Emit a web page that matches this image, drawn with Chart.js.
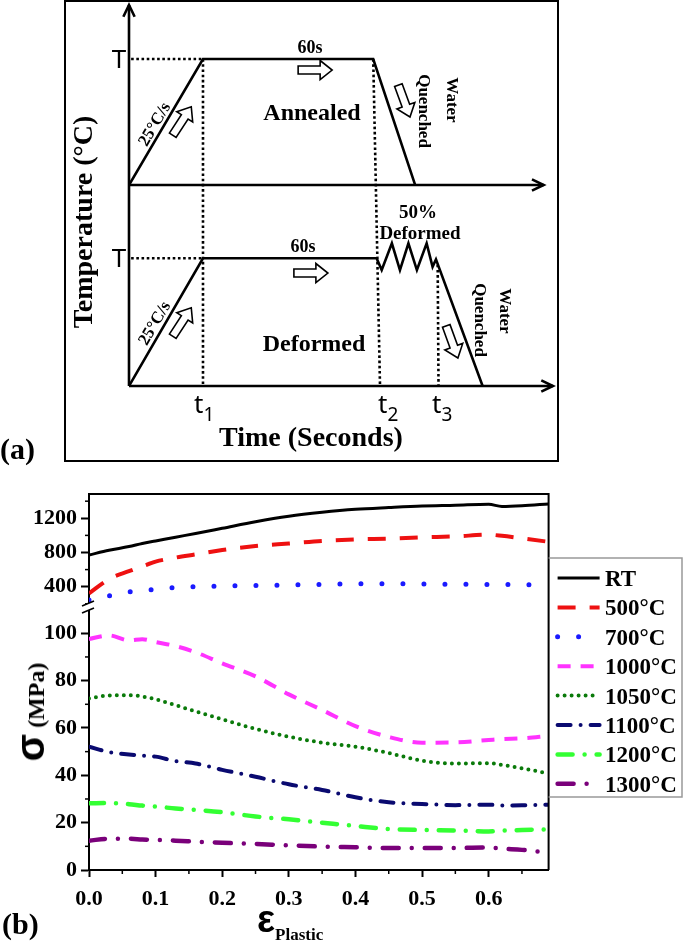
<!DOCTYPE html>
<html><head><meta charset="utf-8">
<script src="https://cdn.jsdelivr.net/npm/chart.js@4.4.1/dist/chart.umd.min.js"></script>
<style>
html,body{margin:0;padding:0;background:#fff;}
#page{position:relative;width:685px;height:942px;overflow:hidden;background:#fff;}
canvas{position:absolute;left:0;}
.t{position:absolute;white-space:nowrap;line-height:1;color:#000;}
.s{font-family:'Liberation Serif','Times New Roman',serif;font-weight:bold;}
.n{font-family:'Noto Sans','Liberation Sans',sans-serif;font-weight:normal;}
.c{transform:translate(-50%,-50%);}
</style></head><body><div id="page">
<div style="position:absolute;left:64px;top:0;width:495px;height:462px;border:2px solid #000;box-sizing:border-box;"></div>
<canvas id="ca" width="685" height="470" style="top:0"></canvas>
<canvas id="cb" width="685" height="472" style="top:470px"></canvas>

<!-- panel (a) texts -->
<div class="t s" style="left:0;top:434px;font-size:30px;">(a)</div>
<div class="t n c" style="left:119px;top:58px;font-size:26px;">T</div>
<div class="t n c" style="left:119px;top:257px;font-size:26px;">T</div>
<div class="t n" style="left:194px;top:390px;font-size:26px;">t<span style="font-size:19px;vertical-align:-8px;">1</span></div>
<div class="t n" style="left:378px;top:390px;font-size:26px;">t<span style="font-size:19px;vertical-align:-8px;">2</span></div>
<div class="t n" style="left:432px;top:390px;font-size:26px;">t<span style="font-size:19px;vertical-align:-8px;">3</span></div>
<div class="t s c" style="left:311px;top:437px;font-size:28px;">Time (Seconds)</div>
<div class="t s" style="left:83px;top:222px;font-size:28px;transform:translate(-50%,-50%) rotate(-90deg);">Temperature (°C)</div>
<div class="t s c" style="left:310px;top:47px;font-size:18px;">60s</div>
<div class="t s c" style="left:303px;top:246px;font-size:18px;">60s</div>
<div class="t s c" style="left:312px;top:112px;font-size:24px;">Annealed</div>
<div class="t s c" style="left:314px;top:343px;font-size:24px;">Deformed</div>
<div class="t s c" style="left:418px;top:211px;font-size:19px;">50%</div>
<div class="t s c" style="left:420px;top:232px;font-size:19px;">Deformed</div>
<div class="t s" style="left:452px;top:100px;font-size:17px;transform:translate(-50%,-50%) rotate(90deg);">Water</div>
<div class="t s" style="left:424px;top:111px;font-size:17px;transform:translate(-50%,-50%) rotate(90deg);">Quenched</div>
<div class="t s" style="left:505px;top:311px;font-size:17px;transform:translate(-50%,-50%) rotate(90deg);">Water</div>
<div class="t s" style="left:480px;top:320px;font-size:17px;transform:translate(-50%,-50%) rotate(90deg);">Quenched</div>
<div class="t s" style="left:154px;top:124px;font-size:17px;transform:translate(-50%,-50%) rotate(-59.6deg);">25°C/s</div>
<div class="t s" style="left:154px;top:323px;font-size:17px;transform:translate(-50%,-50%) rotate(-59.6deg);">25°C/s</div>

<!-- panel (b) texts -->
<div class="t" style="left:30px;top:712px;transform:translate(-50%,-50%) rotate(-90deg);"><span style="font-family:'Liberation Sans',sans-serif;font-weight:bold;font-size:40px;">σ</span><span class="s" style="font-size:24px;"> (MPa)</span></div>
<div class="t" style="left:257px;top:900px;"><span style="font-family:'Liberation Sans',sans-serif;font-weight:bold;font-size:38px;">ε</span><span class="s" style="font-size:17px;vertical-align:-8px;">Plastic</span></div>
<div class="t s" style="left:2px;top:909px;font-size:30px;">(b)</div>
<div id="legendText"></div>
</div>
<script>
// ================= Panel (a): heat-treatment schedule =================
const upTime   = [0, 17.45, 57.6, 67.5];
const upTemp   = [0, 100, 100, 0];
const lowTime  = [0, 17.45, 58.4, 59.6, 62.0, 63.9, 65.9, 67.9, 70.2, 71.6, 72.4, 83.4];
const lowTemp  = [0, 100, 100, 90.8, 111.7, 90.8, 111.7, 90.8, 111.7, 93.4, 99.2, 0];
const holdGuideTime = [0.5, 17.45];
const holdGuideTemp = [100, 100];
// vertical dotted guides: time at top, scale of top point, temp at top, time at bottom (lower baseline)
const guideTop   = [17.45, 57.6, 72.8];
const guideBot   = [17.45, 59.2, 73.0];
const guideScale = ['yUp', 'yUp', 'yLow'];
const guideFrom  = [100, 100, 95];
// hollow block arrows: time, temp, scale, angle(deg)
const arrowTime  = [12.5, 43.9, 64.9, 12.5, 42.9, 76.2];
const arrowTemp  = [50.8, 91.3, 66.7, 50.1, 88.5, 34.5];
const arrowScale = ['yUp', 'yUp', 'yUp', 'yLow', 'yLow', 'yLow'];
const arrowAngle = [-57, 0, 70, -57, 0, 70];

const pts = (xs, ys) => xs.map((v, i) => ({x: v, y: ys[i]}));

function chevron(ctx, x, y, ang) {
  const a1 = ang + Math.PI - 0.45, a2 = ang + Math.PI + 0.45, L = 13;
  ctx.beginPath();
  ctx.moveTo(x + L * Math.cos(a1), y + L * Math.sin(a1));
  ctx.lineTo(x, y);
  ctx.lineTo(x + L * Math.cos(a2), y + L * Math.sin(a2));
  ctx.stroke();
}
function blockArrow(ctx, cx, cy, deg) {
  const L = 34, bw = 8, hw = 19, hl = 12;
  ctx.save();
  ctx.translate(cx, cy); ctx.rotate(deg * Math.PI / 180);
  ctx.beginPath();
  ctx.moveTo(-L/2, -bw/2); ctx.lineTo(L/2 - hl, -bw/2); ctx.lineTo(L/2 - hl, -hw/2);
  ctx.lineTo(L/2, 0); ctx.lineTo(L/2 - hl, hw/2); ctx.lineTo(L/2 - hl, bw/2);
  ctx.lineTo(-L/2, bw/2); ctx.closePath();
  ctx.fillStyle = '#fff'; ctx.fill();
  ctx.lineWidth = 1.6; ctx.strokeStyle = '#000'; ctx.stroke();
  ctx.restore();
}

const schedDecor = {
  id: 'schedDecor',
  beforeDatasetsDraw(chart) {
    const {ctx, scales} = chart;
    const X = scales.x, L = scales.yLow;
    ctx.save();
    ctx.strokeStyle = '#000'; ctx.lineWidth = 2.6; ctx.setLineDash([2.6, 2.6]);
    guideTop.forEach((t, i) => {
      ctx.beginPath();
      ctx.moveTo(X.getPixelForValue(t), scales[guideScale[i]].getPixelForValue(guideFrom[i]));
      ctx.lineTo(X.getPixelForValue(guideBot[i]), L.getPixelForValue(0));
      ctx.stroke();
    });
    ctx.restore();
  },
  afterDatasetsDraw(chart) {
    const {ctx, chartArea, scales} = chart;
    const X = scales.x, U = scales.yUp, L = scales.yLow;
    ctx.save();
    ctx.strokeStyle = '#000'; ctx.lineWidth = 2.6; ctx.lineCap = 'butt';
    const x0 = X.getPixelForValue(0);
    ctx.beginPath(); ctx.moveTo(x0, L.getPixelForValue(0)); ctx.lineTo(x0, chartArea.top); ctx.stroke();
    chevron(ctx, x0, chartArea.top, -Math.PI / 2);
    const yu = U.getPixelForValue(0), xu = X.getPixelForValue(97.8);
    ctx.beginPath(); ctx.moveTo(x0, yu); ctx.lineTo(xu, yu); ctx.stroke();
    chevron(ctx, xu, yu, 0);
    const yl = L.getPixelForValue(0), xl = X.getPixelForValue(100);
    ctx.beginPath(); ctx.moveTo(x0, yl); ctx.lineTo(xl, yl); ctx.stroke();
    chevron(ctx, xl, yl, 0);
    arrowTime.forEach((t, i) => {
      blockArrow(ctx, X.getPixelForValue(t), scales[arrowScale[i]].getPixelForValue(arrowTemp[i]), arrowAngle[i]);
    });
    ctx.restore();
  }
};

new Chart(document.getElementById('ca'), {
  type: 'line',
  data: { datasets: [
    {data: pts(upTime, upTemp), yAxisID: 'yUp', borderColor: '#000', borderWidth: 2.6, pointRadius: 0, tension: 0},
    {data: pts(lowTime, lowTemp), yAxisID: 'yLow', borderColor: '#000', borderWidth: 2.6, pointRadius: 0, tension: 0},
    {data: pts(holdGuideTime, holdGuideTemp), yAxisID: 'yUp', borderColor: '#000', borderWidth: 2.6, borderDash: [2.6, 2.6], pointRadius: 0},
    {data: pts(holdGuideTime, holdGuideTemp), yAxisID: 'yLow', borderColor: '#000', borderWidth: 2.6, borderDash: [2.6, 2.6], pointRadius: 0}
  ]},
  options: {
    responsive: false, animation: false, events: [],
    layout: {padding: {left: 129, right: 132, top: 5, bottom: 84}},
    plugins: {legend: {display: false}, tooltip: {enabled: false}},
    scales: {
      x: {type: 'linear', min: 0, max: 100, display: false},
      yUp: {type: 'linear', min: -159.5, max: 142.9, display: false},
      yLow: {type: 'linear', min: 0, max: 298.4, display: false}
    }
  },
  plugins: [schedDecor]
});

// ================= Panel (b): flow stress vs plastic strain =================
const strain = [0, 0.03, 0.06, 0.08, 0.1, 0.13, 0.16, 0.2, 0.25, 0.3, 0.35, 0.4, 0.45, 0.5, 0.55, 0.6, 0.62, 0.65, 0.69];
const sRT   = [771, 826, 869, 906, 935, 979, 1022, 1083, 1160, 1224, 1270, 1305, 1326, 1344, 1353, 1364, 1338, 1346, 1368];
const s500  = [322, 488, 582, 638, 693, 740, 778, 829, 875, 905, 935, 954, 963, 978, 988, 1008, 995, 965, 925];
const s700  = [244, 292, 338, 355, 369, 390, 400, 408, 414, 420, 427, 435, 435, 431, 428, 427, 427, 425, 420];
const s1000 = [97.6, 99.1, 97.0, 97.5, 96.3, 94.6, 92.0, 87.3, 81.8, 74.2, 67.6, 60.8, 56.2, 53.8, 53.9, 54.9, 55.3, 55.6, 56.7];
const s1050 = [72.5, 73.7, 73.8, 73.3, 72.1, 69.6, 67.0, 63.7, 59.6, 56.3, 53.8, 52.1, 49.4, 46.2, 45.0, 45.1, 44.4, 43.0, 40.8];
const s1100 = [52.1, 49.8, 48.8, 48.3, 47.9, 46.0, 45.0, 42.3, 39.4, 36.2, 33.8, 30.7, 28.6, 27.9, 27.4, 27.6, 27.2, 27.3, 27.6];
const s1200 = [28.2, 28.3, 27.8, 27.2, 26.8, 26.0, 25.4, 24.4, 22.6, 21.4, 20.0, 18.6, 17.3, 16.9, 16.7, 16.3, 16.6, 16.9, 17.2];
const s1300 = [12.4, 13.2, 13.2, 12.9, 12.7, 12.4, 12.0, 11.5, 11.0, 10.4, 9.9, 9.6, 9.3, 9.3, 9.3, 9.5, 9.0, 8.5, 7.3];
const seriesNames = ['RT', '500°C', '700°C', '1000°C', '1050°C', '1100°C', '1200°C', '1300°C'];
const xTicks = [0, 0.1, 0.2, 0.3, 0.4, 0.5, 0.6];
const xMinor = [0.05, 0.15, 0.25, 0.35, 0.45, 0.55, 0.65];
const yTopTicks = [400, 800, 1200];
const yTopMinor = [200, 600, 1000, 1400];
const yBotTicks = [0, 20, 40, 60, 80, 100];
const yBotMinor = [10, 30, 50, 70, 90];

const styles = [
  {c: '#000000', w: 3,   d: [],             cap: 'butt',  ax: 'yTop'},
  {c: '#ee1111', w: 4,   d: [18, 14],       cap: 'butt',  ax: 'yTop'},
  {c: '#1a1aff', w: 5,   d: [0, 21],        cap: 'round', ax: 'yTop'},
  {c: '#ff33ff', w: 4,   d: [13, 10],       cap: 'butt',  ax: 'yBot'},
  {c: '#0a7a0a', w: 4,   d: [0, 7],         cap: 'round', ax: 'yBot'},
  {c: '#0a0a70', w: 4,   d: [13, 10, 0, 10],cap: 'round', ax: 'yBot'},
  {c: '#33ff33', w: 4.5, d: [15, 12, 0, 12],cap: 'round', ax: 'yBot'},
  {c: '#7a007a', w: 4.5, d: [16, 13, 0, 13],cap: 'round', ax: 'yBot'}
];
const values = [sRT, s500, s700, s1000, s1050, s1100, s1200, s1300];

const tickFont = {family: "'Liberation Serif', 'Times New Roman', serif", weight: 'bold', size: 22};
const gridOpt = {display: true, drawOnChartArea: false, drawTicks: true, tickLength: 8, tickWidth: 2, tickColor: '#000'};
const borderOpt = {display: true, color: '#000', width: 2};

const legendY0 = 108, legendStep = 29.4; // canvas-relative centre of first legend row
const legendBox = {top: 88, bottom: 327, right: 682};

const plotDecor = {
  id: 'plotDecor',
  afterDraw(chart) {
    const {ctx, chartArea: a, scales} = chart;
    ctx.save();
    ctx.strokeStyle = '#000'; ctx.lineWidth = 2; ctx.setLineDash([]);
    ctx.beginPath(); ctx.moveTo(a.left, a.top); ctx.lineTo(a.right, a.top); ctx.lineTo(a.right, a.bottom); ctx.stroke();
    ctx.lineWidth = 1.5;
    xMinor.forEach(v => { const px = scales.x.getPixelForValue(v); ctx.beginPath(); ctx.moveTo(px, a.bottom); ctx.lineTo(px, a.bottom + 4); ctx.stroke(); });
    yTopMinor.forEach(v => { const py = scales.yTop.getPixelForValue(v); ctx.beginPath(); ctx.moveTo(a.left, py); ctx.lineTo(a.left - 4, py); ctx.stroke(); });
    yBotMinor.forEach(v => { const py = scales.yBot.getPixelForValue(v); ctx.beginPath(); ctx.moveTo(a.left, py); ctx.lineTo(a.left - 4, py); ctx.stroke(); });
    const b = scales.yBot.top, L = a.left;
    ctx.fillStyle = '#fff';
    ctx.beginPath(); ctx.moveTo(L - 7, b - 1); ctx.lineTo(L + 5, b - 6); ctx.lineTo(L + 5, b + 1); ctx.lineTo(L - 7, b + 6); ctx.closePath(); ctx.fill();
    ctx.lineWidth = 1.6;
    ctx.beginPath(); ctx.moveTo(L - 7, b - 1); ctx.lineTo(L + 5, b - 6); ctx.stroke();
    ctx.beginPath(); ctx.moveTo(L - 7, b + 6); ctx.lineTo(L + 5, b + 1); ctx.stroke();
    ctx.strokeStyle = '#999'; ctx.lineWidth = 1.5;
    ctx.beginPath(); ctx.moveTo(a.right, legendBox.top); ctx.lineTo(legendBox.right, legendBox.top);
    ctx.lineTo(legendBox.right, legendBox.bottom); ctx.lineTo(a.right, legendBox.bottom); ctx.stroke();
    chart.data.datasets.forEach((ds, i) => {
      const y = legendY0 + legendStep * i;
      ctx.strokeStyle = ds.borderColor; ctx.lineWidth = ds.borderWidth;
      ctx.setLineDash(ds.borderDash || []); ctx.lineCap = ds.borderCapStyle || 'butt';
      ctx.beginPath(); ctx.moveTo(a.right + 9, y); ctx.lineTo(a.right + 51, y); ctx.stroke();
    });
    ctx.restore();
  }
};

new Chart(document.getElementById('cb'), {
  type: 'line',
  data: { datasets: values.map((vals, i) => ({
    label: seriesNames[i],
    data: pts(strain, vals),
    yAxisID: styles[i].ax,
    borderColor: styles[i].c, borderWidth: styles[i].w, borderDash: styles[i].d,
    borderCapStyle: styles[i].cap, pointRadius: 0, cubicInterpolationMode: 'monotone', fill: false
  }))},
  options: {
    responsive: false, animation: false, events: [],
    layout: {padding: {left: 0, right: 136.4, top: 24, bottom: 0}},
    plugins: {legend: {display: false}, tooltip: {enabled: false}},
    scales: {
      x: {type: 'linear', min: 0, max: 0.69,
          afterFit(s) { s.height = 72; },
          afterBuildTicks(s) { s.ticks = xTicks.map(v => ({value: v})); },
          ticks: {callback: v => Number(v).toFixed(1), font: tickFont, color: '#000', padding: 9, maxRotation: 0, autoSkip: false},
          grid: {...gridOpt, tickLength: 7}, border: borderOpt},
      yBot: {type: 'linear', position: 'left', stack: 'sig', stackWeight: 263, min: 0, max: 111.1,
          afterFit(s) { s.width = 89; },
          afterBuildTicks(s) { s.ticks = yBotTicks.map(v => ({value: v})); },
          ticks: {callback: v => String(v), font: tickFont, color: '#000', padding: 4, autoSkip: false},
          grid: gridOpt, border: borderOpt},
      yTop: {type: 'linear', position: 'left', stack: 'sig', stackWeight: 113, min: 162.6, max: 1484,
          afterFit(s) { s.width = 89; },
          afterBuildTicks(s) { s.ticks = yTopTicks.map(v => ({value: v})); },
          ticks: {callback: v => String(v), font: tickFont, color: '#000', padding: 4, autoSkip: false},
          grid: gridOpt, border: borderOpt}
    }
  },
  plugins: [plotDecor]
});

const lt = document.getElementById('legendText');
seriesNames.forEach((name, i) => {
  const d = document.createElement('div');
  d.className = 't s';
  d.style.cssText = 'left:605px;top:' + (470 + legendY0 + legendStep * i) + 'px;font-size:23px;transform:translateY(-50%);';
  d.textContent = name;
  lt.appendChild(d);
});
</script>
</body></html>
